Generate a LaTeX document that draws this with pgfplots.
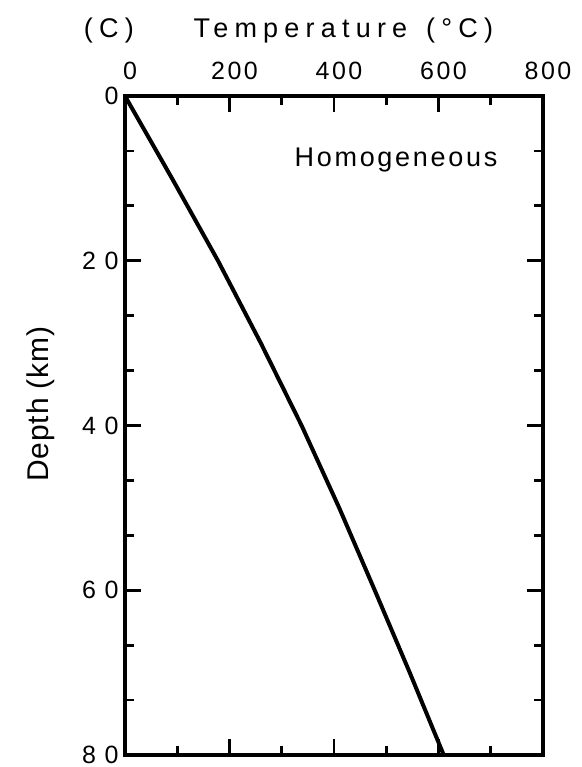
\documentclass[border=0pt]{standalone}
\usepackage{fontspec}
\setmainfont{Liberation Sans}
\newfontfamily\spaced[LetterSpace=23]{Liberation Sans}
\newfontfamily\note[LetterSpace=10]{Liberation Sans}
\newfontfamily\xnum[LetterSpace=10]{Liberation Sans}
\newfontfamily\ynum[LetterSpace=35]{Liberation Sans}
\newfontfamily\ylab[LetterSpace=3]{Liberation Sans}
\usepackage{pgfplots}
\pgfplotsset{compat=1.18}
\begin{document}
\begin{tikzpicture}
\path[use as bounding box] (-62.5pt,-6pt) rectangle (228.5pt,377.5pt);
\begin{axis}[
  scale only axis, width=209pt, height=329.5pt,
  xmin=0, xmax=800, ymin=0, ymax=80, y dir=reverse,
  line width=1.7pt,
  xtick={0,200,...,800}, minor x tick num=1,
  ytick={0,20,...,80}, minor y tick num=2,
  xticklabel pos=top, tick align=inside,
  major tick length=8pt, minor tick length=4.5pt,
  every tick/.style={black, line width=1.4pt},
  /pgf/number format/assume math mode=true,
  xticklabel style={font=\xnum\fontsize{12.5}{14}\selectfont, yshift=4pt, xshift=2.5pt},
  yticklabel style={font=\ynum\fontsize{12.5}{14}\selectfont, xshift=1pt},
  clip=false,
]
% homogeneous crust geotherm
\addplot[black, line width=2pt] coordinates {
  (0,0) (90,10) (178,20) (260,30) (338,40) (410,50) (478,60) (545,70) (610,80)};
\node[font=\spaced\fontsize{13.5}{16}\selectfont, anchor=west, inner sep=0] at (axis cs:-82,-7.9) {(C)};
\node[font=\spaced\fontsize{13.5}{16}\selectfont, anchor=west, inner sep=0] at (axis cs:128,-7.9) {Temperature\hspace{0.7em}(°C)};
\node[font=\note\fontsize{13.5}{16}\selectfont, anchor=base west, inner sep=0] at (axis cs:321.5,8.5) {Homogeneous};
\node[font=\ylab\fontsize{15}{18}\selectfont, rotate=90, inner sep=0] at (axis cs:-162,37.4) {Depth (km)};
\end{axis}
\end{tikzpicture}
\end{document}
